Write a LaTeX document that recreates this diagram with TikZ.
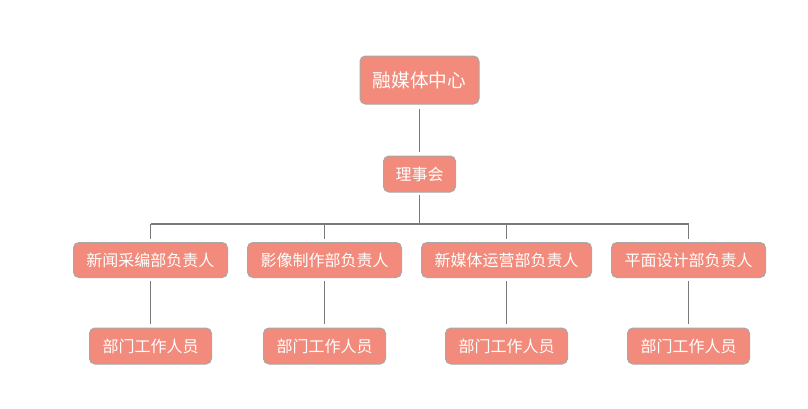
\documentclass[tikz,border=0pt]{standalone}
\usepackage{fontspec}
\setmainfont{Noto Sans CJK SC}
\definecolor{boxfill}{HTML}{F28B7B}
\definecolor{boxline}{HTML}{A8A8A8}
\definecolor{conncol}{HTML}{7A7A7A}
\tikzset{
  orgbox/.style={draw=boxline, line width=0.75pt, fill=boxfill, rounded corners=4pt, text=white, inner sep=0pt, font=\fontsize{12pt}{14pt}\selectfont},
  conn/.style={draw=conncol, line width=1.1pt},
}
\begin{document}
\begin{tikzpicture}[x=0.75pt, y=-0.75pt]
\useasboundingbox (0,0) rectangle (808,408);
\node[orgbox, minimum width=89.25pt, minimum height=36pt, font=\fontsize{14pt}{16pt}\selectfont] (top) at (419.5,80) {融媒体中心};
\node[orgbox, minimum width=54pt, minimum height=27pt] (lsh) at (419.5,174) {理事会};
\coordinate (j) at (419.5,224);
\node[orgbox, minimum width=115.5pt, minimum height=26.25pt] (d1) at (150.5,260) {新闻采编部负责人};
\node[orgbox, minimum width=115.5pt, minimum height=26.25pt] (d2) at (324.5,260) {影像制作部负责人};
\node[orgbox, minimum width=127.5pt, minimum height=26.25pt] (d3) at (506.5,260) {新媒体运营部负责人};
\node[orgbox, minimum width=115.5pt, minimum height=26.25pt] (d4) at (688.5,260) {平面设计部负责人};
\node[orgbox, minimum width=91.5pt, minimum height=27pt] (w1) at (150.5,346) {部门工作人员};
\node[orgbox, minimum width=91.5pt, minimum height=27pt] (w2) at (324.5,346) {部门工作人员};
\node[orgbox, minimum width=91.5pt, minimum height=27pt] (w3) at (506.5,346) {部门工作人员};
\node[orgbox, minimum width=91.5pt, minimum height=27pt] (w4) at (688.5,346) {部门工作人员};
\draw[conn, shorten <=3pt, shorten >=2.5pt] (top.south) -- (lsh.north);
\draw[conn, shorten <=2pt] (lsh.south) -- (j);
\draw[conn] (d1.north |- j) -- (d4.north |- j);
\foreach \d/\w in {d1/w1,d2/w2,d3/w3,d4/w4}{
  \draw[conn, shorten >=2.5pt] (\d.north |- j) -- (\d.north);
  \draw[conn, shorten <=2.5pt, shorten >=2.5pt] (\d.south) -- (\w.north);
}
\end{tikzpicture}
\end{document}
